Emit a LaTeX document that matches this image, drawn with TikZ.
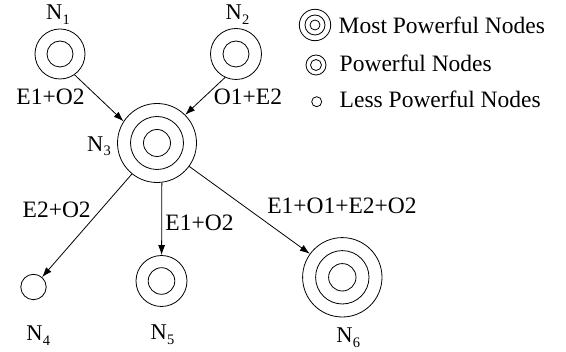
\documentclass[tikz,border=0pt]{standalone}
\usepackage{fontspec}
\setmainfont{Liberation Serif}
\usetikzlibrary{arrows.meta}

% node name with a lowered index, e.g. N_1
\newcommand\nlab[1]{N\kern0.3pt\raisebox{-4.5pt}{\fontsize{14.5}{14.5}\selectfont #1}}

\begin{document}
\begin{tikzpicture}[x=1pt,y=-1pt,
  line width=0.8pt,
  every node/.style={font=\fontsize{23.5}{28}\selectfont},
  ring/.style={draw,circle,inner sep=0pt,minimum size=#1},
  link/.style={-{Latex[length=10pt,width=7pt]}},
  nname/.style={anchor=base,font=\fontsize{22.5}{26}\selectfont},
  elabel/.style={anchor=base},
  legtext/.style={anchor=base west}]
\useasboundingbox (0,0) rectangle (566,352);

% nodes (outer ring carries the name, inner rings drawn around the centre)
\node[ring=50pt]  (N1) at (60,54) {};
\draw (N1.center) circle[radius=13pt];
\node[ring=51pt]  (N2) at (236,54) {};
\draw (N2.center) circle[radius=13pt];
\node[ring=79pt]  (N3) at (157,143) {};
\draw (N3.center) circle[radius=26.5pt] circle[radius=13.5pt];
\node[ring=25.4pt] (N4) at (33.5,287) {};
\node[ring=51pt]  (N5) at (161.5,281) {};
\draw (N5.center) circle[radius=13.3pt];
\node[ring=79.4pt] (N6) at (342.3,277.3) {};
\draw (N6.center) circle[radius=26.7pt] circle[radius=13.7pt];

% node names
\node[nname] (L1) at (58,20) {\nlab{1}};
\node[nname] (L2) at (237.5,20) {\nlab{2}};
\node[nname] (L3) at (99,151.5) {\nlab{3}};
\node[nname] (L4) at (38.3,341) {\nlab{4}};
\node[nname] (L5) at (162.5,340) {\nlab{5}};
\node[nname] (L6) at (348.3,343) {\nlab{6}};

% connectors
\draw[link] (N1.-55) -- (N3.147);
\draw[link] (N2.245) -- (N3.45);
\draw[link] (N3.-129) -- (N4);
\draw[link] (N3.-83) -- (N5);
\draw[link] (N3.-36.5) -- (N6);

% connector labels
\node[elabel] (e13) at (50.5,105) {E1+O2};
\node[elabel] (e23) at (248,105) {O1+E2};
\node[elabel] (e34) at (56.7,217.4) {E2+O2};
\node[elabel] (e35) at (199.5,230.7) {E1+O2};
\node[elabel] (e36) at (342,213.3) {E1+O1+E2+O2};

% legend
\node[ring=31.4pt] (k1) at (315,25) {};
\draw (k1.center) circle[radius=10pt] circle[radius=5pt];
\node[legtext] (t1) at (335,33.3) {Most Powerful Nodes};
\node[ring=20pt] (k2) at (316,65) {};
\draw (k2.center) circle[radius=5.5pt];
\node[legtext] (t2) at (336,71.7) {Powerful Nodes};
\node[ring=10pt] (k3) at (316.7,101.7) {};
\node[legtext] (t3) at (336,107.7) {Less Powerful Nodes};
\end{tikzpicture}
\end{document}
